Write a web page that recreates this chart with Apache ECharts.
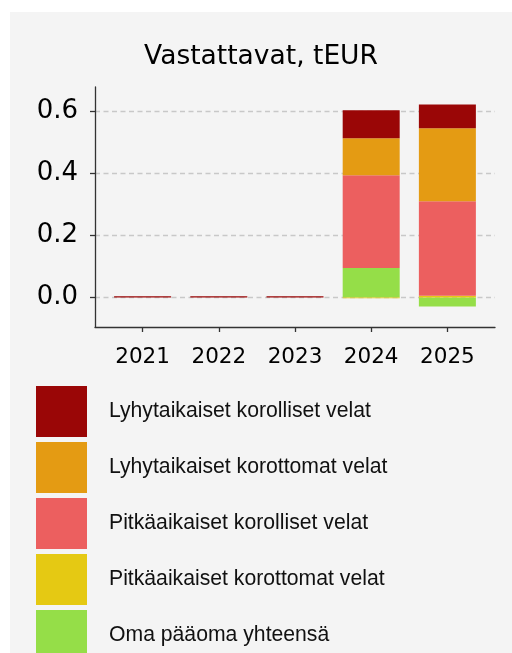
<!DOCTYPE html>
<html>
<head>
<meta charset="utf-8">
<script src="https://cdn.jsdelivr.net/npm/echarts@6/dist/echarts.min.js"></script>
<style>
  html, body { margin: 0; padding: 0; background: #ffffff; }
  .panel { position: absolute; left: 10px; top: 12px; width: 502px; height: 641px; background: #f4f4f4; }
  #chart { position: absolute; left: 0; top: 0; width: 512px; height: 653px; }
</style>
</head>
<body>
<div class="panel"></div>
<div id="chart"></div>
<script>
// vuodet ja sarjat (tEUR)
const years = ['2021', '2022', '2023', '2024', '2025'];
const yTicks = [0, 0.2, 0.4, 0.6];
const omaPaaoma = [0, 0, 0, 0.095, -0.029];
const pitkaKorottomat = [0, 0, 0, -0.002, 0.006];
const pitkaKorolliset = [0, 0, 0, 0.298, 0.304];
const lyhytKorottomat = [0, 0, 0, 0.119, 0.234];
const lyhytKorolliset = [0.004, 0.004, 0.004, 0.090, 0.077];

const names = [
  'Oma pääoma yhteensä',
  'Pitkäaikaiset korottomat velat',
  'Pitkäaikaiset korolliset velat',
  'Lyhytaikaiset korottomat velat',
  'Lyhytaikaiset korolliset velat'
];
const colors = ['#95de48', '#e5c913', '#ec5f5f', '#e49b13', '#9a0606'];
const values = [omaPaaoma, pitkaKorottomat, pitkaKorolliset, lyhytKorottomat, lyhytKorolliset];

const chart = echarts.init(document.getElementById('chart'));

const option = {
  animation: false,
  backgroundColor: 'transparent',
  title: {
    text: 'Vastattavat, tEUR',
    left: 261,
    textAlign: 'center',
    top: 44,
    padding: 0,
    textStyle: {
      fontFamily: 'DejaVu Sans',
      fontSize: 26.5,
      fontWeight: 'normal',
      color: '#000'
    }
  },
  legend: {
    orient: 'vertical',
    left: 36,
    top: 386,
    height: 320,
    padding: 0,
    icon: 'rect',
    itemWidth: 51,
    itemHeight: 51,
    itemGap: 5,
    data: names.slice().reverse(),
    textStyle: {
      fontFamily: 'Liberation Sans',
      fontSize: 21.2,
      color: '#111',
      padding: [0, 0, 0, 17]
    }
  },
  grid: {
    left: 95,
    right: 17,
    top: 87,
    bottom: 326,
    containLabel: false
  },
  xAxis: {
    type: 'value',
    min: -0.625,
    max: 4.625,
    axisLine: { show: true, onZero: false, lineStyle: { color: '#333', width: 1.3 } },
    axisTick: { show: true, customValues: [0, 1, 2, 3, 4], length: 5, lineStyle: { color: '#333', width: 1.3 } },
    axisLabel: {
      customValues: [0, 1, 2, 3, 4],
      formatter: v => years[v],
      margin: 19,
      fontFamily: 'DejaVu Sans',
      fontSize: 21.5,
      color: '#000'
    },
    splitLine: { show: false }
  },
  yAxis: {
    type: 'value',
    min: -0.0945,
    max: 0.677,
    axisLine: { show: true, onZero: false, lineStyle: { color: '#333', width: 1.3 } },
    axisTick: { show: true, customValues: yTicks, length: 5, lineStyle: { color: '#333', width: 1.3 } },
    axisLabel: {
      customValues: yTicks,
      formatter: v => v.toFixed(1),
      margin: 17,
      fontFamily: 'DejaVu Sans',
      fontSize: 26,
      color: '#000'
    },
    splitLine: {
      show: true,
      lineStyle: { color: '#c8c8c8', width: 1.3, type: [5, 3.5] }
    }
  },
  // value first so the stack goes on the y dimension
  series: values.map((vals, k) => ({
    name: names[k],
    type: 'bar',
    stack: 'total',
    barWidth: 57,
    itemStyle: { color: colors[k] },
    encode: { x: 1, y: 0 },
    data: vals.map((v, i) => [v, i])
  }))
};

chart.setOption(option);
</script>
</body>
</html>
